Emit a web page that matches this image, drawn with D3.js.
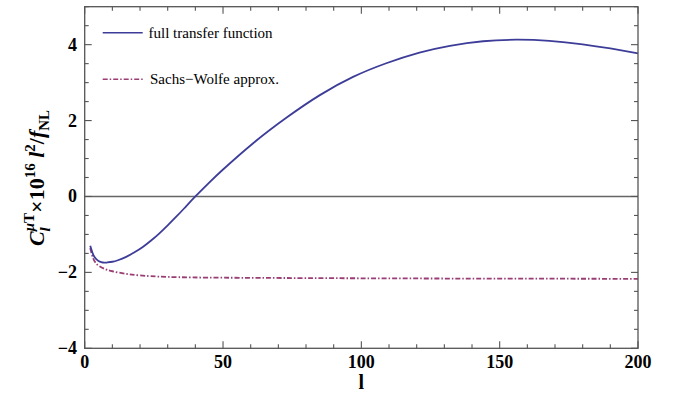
<!DOCTYPE html>
<html><head><meta charset="utf-8">
<script src="https://cdn.jsdelivr.net/npm/d3@7"></script>
<style>body{margin:0;background:#fff}svg{display:block}</style>
</head><body>
<svg id="c" width="683" height="396"></svg>
<script>
const fullL = [2,3,4,5,6,7,8,10,12,15,18,21,24,27,30,33,36,40,45,50,61,73,85,97,109,121,132,144,156,168,180,190,200];
const fullV = [-1.30,-1.52,-1.64,-1.70,-1.73,-1.745,-1.74,-1.72,-1.68,-1.59,-1.47,-1.33,-1.16,-0.97,-0.76,-0.54,-0.31,0.0,0.365,0.71,1.41,2.08,2.67,3.15,3.51,3.79,3.97,4.09,4.13,4.10,4.01,3.90,3.77];
const swL = [2,3,4,5,7,10,15,20,30,50,80,120,160,200];
const swV = [-1.36,-1.62,-1.75,-1.82,-1.90,-1.97,-2.04,-2.08,-2.12,-2.14,-2.15,-2.16,-2.165,-2.17];
const xTicks = [0,50,100,150,200];
const yTicks = [-4,-2,0,2,4];
const legendLabels = ["full transfer function","Sachs\u2212Wolfe approx."];

const svg = d3.select("#c");
const L=84.7, R=638, T=6.7, B=348.3;
const x = d3.scaleLinear().domain([0,200]).range([L,R]);
const y = d3.scaleLinear().domain([-4,5]).range([B,T]);
const frameCol="#555";
const font="'Liberation Serif','Times New Roman',serif";

// zero line
svg.append("line").attr("x1",L).attr("x2",R).attr("y1",y(0)).attr("y2",y(0))
  .attr("stroke","#666").attr("stroke-width",1.3);

// curves
const line = d3.line().x(d=>x(d[0])).y(d=>y(d[1])).curve(d3.curveNatural);
svg.append("path").datum(swL.map((l,i)=>[l,swV[i]])).attr("d",line)
  .attr("fill","none").attr("stroke","#993d74").attr("stroke-width",1.8)
  .attr("stroke-dasharray","5,2,1.5,2");
svg.append("path").datum(fullL.map((l,i)=>[l,fullV[i]])).attr("d",line)
  .attr("fill","none").attr("stroke","#3d3d99").attr("stroke-width",1.8);

// frame
svg.append("rect").attr("x",L).attr("y",T).attr("width",R-L).attr("height",B-T)
  .attr("fill","none").attr("stroke",frameCol).attr("stroke-width",1.3);

// ticks
const xMinor = d3.range(0,201,10), yMinor = d3.range(-4,5.01,0.5);
xMinor.forEach(v=>{
  const len = v%50===0?7:4;
  svg.append("line").attr("x1",x(v)).attr("x2",x(v)).attr("y1",B).attr("y2",B-len).attr("stroke",frameCol).attr("stroke-width",1.1);
  svg.append("line").attr("x1",x(v)).attr("x2",x(v)).attr("y1",T).attr("y2",T+len).attr("stroke",frameCol).attr("stroke-width",1.1);
});
yMinor.forEach(v=>{
  const len = Math.abs(v%2)<1e-9?7:4;
  svg.append("line").attr("x1",L).attr("x2",L+len).attr("y1",y(v)).attr("y2",y(v)).attr("stroke",frameCol).attr("stroke-width",1.1);
  svg.append("line").attr("x1",R).attr("x2",R-len).attr("y1",y(v)).attr("y2",y(v)).attr("stroke",frameCol).attr("stroke-width",1.1);
});

// tick labels
const fmt = v => v<0 ? "\u2212"+Math.abs(v) : String(v);
svg.append("g").selectAll("text").data(xTicks).join("text")
  .attr("x",d=>x(d)).attr("y",368).attr("text-anchor","middle")
  .attr("font-family",font).attr("font-weight","bold").attr("font-size",18).text(fmt);
svg.append("g").selectAll("text").data(yTicks).join("text")
  .attr("x",77).attr("y",d=>y(d)+6).attr("text-anchor","end")
  .attr("font-family",font).attr("font-weight","bold").attr("font-size",18).text(fmt);

// axis labels
svg.append("text").attr("x",x(100)).attr("y",389).attr("text-anchor","middle")
  .attr("font-family",font).attr("font-weight","bold").attr("font-size",20).text("l");

const yl = svg.append("text").attr("transform","translate(44,178) rotate(-90)")
  .attr("text-anchor","middle").attr("font-family",font).attr("font-weight","bold").attr("font-size",22);
yl.append("tspan").attr("font-style","italic").text("C");
yl.append("tspan").attr("font-size",15).attr("dy",6).attr("font-style","italic").text("l");
yl.append("tspan").attr("font-size",15).attr("dy",-16).attr("dx",-4).attr("font-style","italic").text("\u03bc");
yl.append("tspan").attr("font-size",15).text("T");
yl.append("tspan").attr("dy",10).text("\u00d710");
yl.append("tspan").attr("font-size",15).attr("dy",-9).text("16");
yl.append("tspan").attr("dy",9).attr("font-style","italic").text(" l");
yl.append("tspan").attr("font-size",15).attr("dy",-9).text("2");
yl.append("tspan").attr("dy",9).text("/");
yl.append("tspan").attr("font-style","italic").text("f");
yl.append("tspan").attr("font-size",15).attr("dy",5).text("NL");

// legend
const legY=[32.7,79.3], legStroke=["#3d3d99","#993d74"], legDash=[null,"5,2,1.5,2"], legTx=[148.5,150];
legendLabels.forEach((lab,i)=>{
  svg.append("line").attr("x1",102.7).attr("x2",142.7).attr("y1",legY[i]).attr("y2",legY[i])
    .attr("stroke",legStroke[i]).attr("stroke-width",1.6).attr("stroke-dasharray",legDash[i]);
  svg.append("text").attr("x",legTx[i]).attr("y",legY[i]+5).attr("font-family",font)
    .attr("font-size",15).text(lab);
});
</script>
</body></html>
